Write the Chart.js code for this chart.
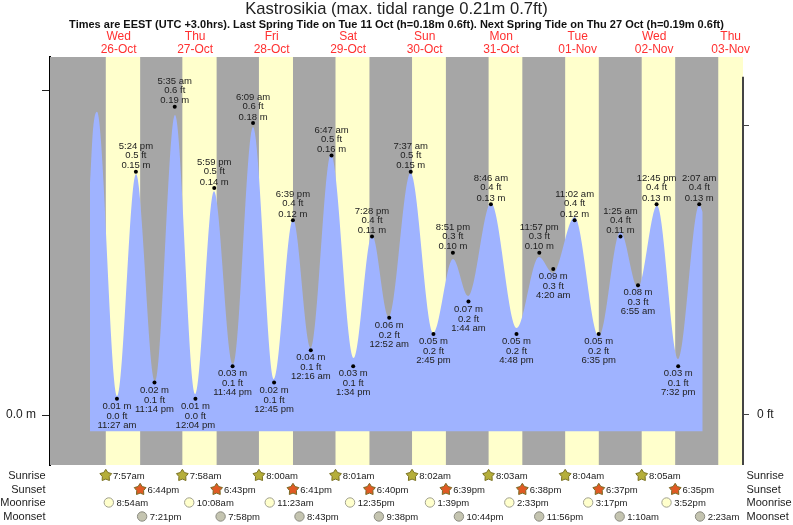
<!DOCTYPE html>
<html><head><meta charset="utf-8">
<style>html,body{margin:0;padding:0;background:#fff}canvas{display:block}</style>
<script src="https://cdn.jsdelivr.net/npm/chart.js@4/dist/chart.umd.min.js"></script>
</head><body><canvas id="c" width="793" height="525"></canvas>
<script>
const titleText='Kastrosikia (max. tidal range 0.21m 0.7ft)';
const subtitleText='Times are EEST (UTC +3.0hrs). Last Spring Tide on Tue 11 Oct (h=0.18m 0.6ft). Next Spring Tide on Thu 27 Oct (h=0.19m 0.6ft)';
const dayNames=['Wed','Thu','Fri','Sat','Sun','Mon','Tue','Wed','Thu'];
const dayDates=['26-Oct','27-Oct','28-Oct','29-Oct','30-Oct','31-Oct','01-Nov','02-Nov','03-Nov'];
const dayNoonHours=[12,36,60,84,108,132,156,180,204];
// hours since 26-Oct 00:00
const curveHours=[3.0,3.94,5.19,11.47,17.43,23.39,29.66,36.09,41.9,47.86,54.13,60.72,66.68,72.32,78.6,85.69,91.47,96.8,103.55,110.67,116.88,121.65,128.8,136.83,143.86,148.25,155.0,162.68,169.39,174.92,180.88,187.53,194.15,195.22];
const curveMetres=[0.143,0.176,0.187,0.0117,0.1486,0.021,0.185,0.013,0.138,0.0314,0.1776,0.0222,0.1208,0.0413,0.1609,0.0351,0.111,0.0604,0.1492,0.0506,0.0962,0.0734,0.1307,0.0536,0.0974,0.0875,0.1221,0.0487,0.1131,0.0783,0.1292,0.0345,0.1295,0.1252];
const tideHours=[11.45,17.4,23.23,29.58,36.07,41.98,47.73,54.15,60.75,66.65,72.27,78.78,85.57,91.47,96.87,103.62,110.75,116.85,121.73,128.77,136.8,143.95,148.33,155.03,162.58,169.42,174.92,180.75,187.53,194.12];
const tideMetres=[0.01,0.15,0.02,0.19,0.01,0.14,0.03,0.18,0.02,0.12,0.04,0.16,0.03,0.11,0.06,0.15,0.05,0.10,0.07,0.13,0.05,0.10,0.09,0.12,0.05,0.11,0.08,0.13,0.03,0.13];
const tideMetreLabels=['0.01 m','0.15 m','0.02 m','0.19 m','0.01 m','0.14 m','0.03 m','0.18 m','0.02 m','0.12 m','0.04 m','0.16 m','0.03 m','0.11 m','0.06 m','0.15 m','0.05 m','0.10 m','0.07 m','0.13 m','0.05 m','0.10 m','0.09 m','0.12 m','0.05 m','0.11 m','0.08 m','0.13 m','0.03 m','0.13 m'];
const tideFeetLabels=['0.0 ft','0.5 ft','0.1 ft','0.6 ft','0.0 ft','0.5 ft','0.1 ft','0.6 ft','0.1 ft','0.4 ft','0.1 ft','0.5 ft','0.1 ft','0.4 ft','0.2 ft','0.5 ft','0.2 ft','0.3 ft','0.2 ft','0.4 ft','0.2 ft','0.3 ft','0.3 ft','0.4 ft','0.2 ft','0.4 ft','0.3 ft','0.4 ft','0.1 ft','0.4 ft'];
const tideTimeLabels=['11:27 am','5:24 pm','11:14 pm','5:35 am','12:04 pm','5:59 pm','11:44 pm','6:09 am','12:45 pm','6:39 pm','12:16 am','6:47 am','1:34 pm','7:28 pm','12:52 am','7:37 am','2:45 pm','8:51 pm','1:44 am','8:46 am','4:48 pm','11:57 pm','4:20 am','11:02 am','6:35 pm','1:25 am','6:55 am','12:45 pm','7:32 pm','2:07 am'];
const sunriseHours=[7.95,31.97,56.0,80.02,104.03,128.05,152.07,176.08,200.1];
const sunsetHours=[18.73,42.72,66.68,90.67,114.65,138.63,162.62,186.58];
const sunriseLabels=['7:57am','7:58am','8:00am','8:01am','8:02am','8:03am','8:04am','8:05am'];
const sunsetLabels=['6:44pm','6:43pm','6:41pm','6:40pm','6:39pm','6:38pm','6:37pm','6:35pm'];
const moonriseHours=[8.9,34.13,59.38,84.58,109.65,134.55,159.28,183.87];
const moonriseLabels=['8:54am','10:08am','11:23am','12:35pm','1:39pm','2:33pm','3:17pm','3:52pm'];
const moonsetHours=[19.35,43.97,68.72,93.63,118.73,143.93,169.17,194.38];
const moonsetLabels=['7:21pm','7:58pm','8:43pm','9:38pm','10:44pm','11:56pm','1:10am','2:23am'];
const rowNames=['Sunrise','Sunset','Moonrise','Moonset'];

const SANS='"Liberation Sans", Arial, sans-serif';
function starPath(ctx,x,y,R,r){ctx.beginPath();for(let i=0;i<10;i++){const a=-Math.PI/2+i*Math.PI/5,q=i%2?r:R;ctx.lineTo(x+q*Math.cos(a),y+q*Math.sin(a));}ctx.closePath();}
const tidePlugin={id:'tidePlugin',
 beforeDatasetsDraw(ch){const{ctx,chartArea:a,scales:{x}}=ch;ctx.save();
  ctx.fillStyle='#a6a6a6';ctx.fillRect(a.left,a.top,a.right-a.left,a.bottom-a.top);
  ctx.fillStyle='#ffffcc';
  sunriseHours.forEach((h,i)=>{const x0=x.getPixelForValue(h);const x1=i<sunsetHours.length?x.getPixelForValue(sunsetHours[i]):a.right;ctx.fillRect(x0,a.top,x1-x0,a.bottom-a.top);});
  ctx.restore();},
 afterDraw(ch){const{ctx,chartArea:a,scales:{x,y,y1}}=ch;ctx.save();
  // right axis line
  ctx.strokeStyle='#444';ctx.lineWidth=2;ctx.beginPath();ctx.moveTo(a.right,y1.getPixelForValue(0.7));ctx.lineTo(a.right,a.bottom);ctx.stroke();
  // labels of tides
  ctx.font='9.5px '+SANS;ctx.fillStyle='#222';ctx.textAlign='center';ctx.textBaseline='middle';
  tideHours.forEach((h,i)=>{const px=x.getPixelForValue(h),py=y.getPixelForValue(tideMetres[i]);
   const prev=i?tideMetres[i-1]:-1,next=i<tideMetres.length-1?tideMetres[i+1]:-1;
   const high=tideMetres[i]>prev&&tideMetres[i]>next;
   if(high){ctx.fillText(tideMetreLabels[i],px,py-6);ctx.fillText(tideFeetLabels[i],px,py-16.5);ctx.fillText(tideTimeLabels[i],px,py-25.5);}
   else{ctx.fillText(tideMetreLabels[i],px,py+7.5);ctx.fillText(tideFeetLabels[i],px,py+17.5);ctx.fillText(tideTimeLabels[i],px,py+26.5);}
  });
  // almanac rows
  const rows=[476,490,503,517];
  ctx.font='11px '+SANS;ctx.fillStyle='#222';
  rowNames.forEach((n,i)=>{ctx.textAlign='right';ctx.fillText(n,45.5,rows[i]);ctx.textAlign='left';ctx.fillText(n,746.5,rows[i]);});
  ctx.font='9.5px '+SANS;ctx.textAlign='left';
  const star=(hs,ls,row,fill,stroke)=>ls.forEach((l,i)=>{const px=x.getPixelForValue(hs[i]);starPath(ctx,px,row-0.5,6.2,3.6);ctx.fillStyle=fill;ctx.strokeStyle=stroke;ctx.lineWidth=1;ctx.fill();ctx.stroke();ctx.fillStyle='#222';ctx.fillText(l,px+7.3,row);});
  const moon=(hs,ls,row,fill,stroke)=>ls.forEach((l,i)=>{const px=x.getPixelForValue(hs[i]);ctx.beginPath();ctx.arc(px,row-0.5,4.7,0,Math.PI*2);ctx.fillStyle=fill;ctx.strokeStyle=stroke;ctx.lineWidth=1;ctx.fill();ctx.stroke();ctx.fillStyle='#222';ctx.fillText(l,px+7.6,row);});
  star(sunriseHours,sunriseLabels,rows[0],'#b5ae3a','#7a7224');
  star(sunsetHours,sunsetLabels,rows[1],'#e05a24','#7a6a24');
  moon(moonriseHours,moonriseLabels,rows[2],'#ffffcc','#a0a090');
  moon(moonsetHours,moonsetLabels,rows[3],'#c4c4b0','#8a8a80');
  ctx.restore();}
};
new Chart(document.getElementById('c'),{
 type:'line',
 plugins:[tidePlugin],
 data:{datasets:[
  {label:'Tide height',data:curveHours.map((h,i)=>({x:h,y:curveMetres[i]})),yAxisID:'y',xAxisID:'x',borderWidth:0,pointRadius:0,backgroundColor:'#9fb3ff',fill:{value:-0.01},cubicInterpolationMode:'monotone',order:2},
  {label:'High and low water',data:tideHours.map((h,i)=>({x:h,y:tideMetres[i]})),yAxisID:'y',xAxisID:'x',showLine:false,pointRadius:2,pointBackgroundColor:'#000',pointBorderWidth:0,order:1}
 ]},
 options:{responsive:false,animation:false,devicePixelRatio:1,
  layout:{padding:{top:0,bottom:60,left:0,right:0}},
  plugins:{legend:{display:false},tooltip:{enabled:false},
   title:{display:true,text:titleText,color:'#222',font:{family:SANS,size:16.6,weight:'normal',lineHeight:1},padding:{top:1,bottom:0}},
   subtitle:{display:true,text:subtitleText,color:'#111',font:{family:SANS,size:11,weight:'bold',lineHeight:1},padding:{top:2,bottom:0}}},
  scales:{
   x:{type:'linear',position:'top',min:-9.55,max:207.86,
    afterBuildTicks(s){s.ticks=dayNoonHours.map(v=>({value:v}));},
    afterFit(s){s.height=26.4;},
    grid:{display:false,drawTicks:false},border:{display:false},
    ticks:{autoSkip:false,maxRotation:0,padding:1,color:'#ff3030',font:{family:SANS,size:12,lineHeight:1.05},
     callback(v){const i=dayNoonHours.indexOf(v);return i<0?'':[dayNames[i],dayDates[i]];}}},
   y:{type:'linear',position:'left',min:-0.0308,max:0.2207,
    afterBuildTicks(s){s.ticks=[{value:0},{value:0.2}];},
    afterFit(s){s.width=50;},
    border:{color:'#000',width:2},
    grid:{drawOnChartArea:false,drawTicks:true,tickLength:8,color:'#222'},
    ticks:{padding:6,color:'#222',font:{family:SANS,size:12},callback(v){return v===0?'0.0 m':'';}}},
   y1:{type:'linear',position:'right',min:-0.1035,max:0.741,
    afterBuildTicks(s){s.ticks=[{value:0},{value:0.6}];},
    afterFit(s){s.width=50;},
    border:{display:false},
    grid:{drawOnChartArea:false,drawTicks:true,tickLength:6,color:'#444'},
    ticks:{padding:8,color:'#222',font:{family:SANS,size:12},callback(v){return v===0?'0 ft':'';}}}
  }}
});
</script></body></html>
